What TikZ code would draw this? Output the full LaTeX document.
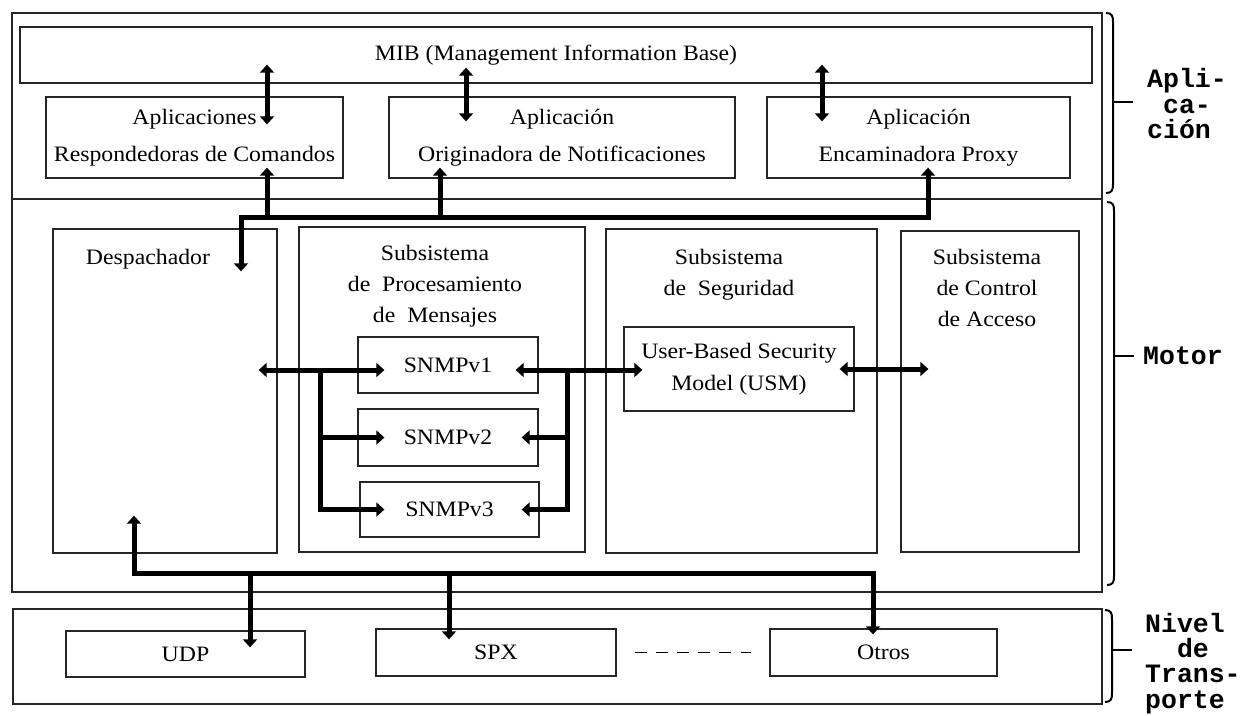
\documentclass[tikz,border=0pt]{standalone}
\usepackage{fontspec}
\setmainfont{Liberation Serif}[FakeStretch=1.08]
\newfontfamily\etiqfont{Liberation Mono}
\usepackage{tikz}
\usetikzlibrary{arrows.meta,positioning,calc}
\tikzstyle{capa} = [rectangle, draw=black!85, line width=1.4pt, inner sep=0pt]
\tikzstyle{caja} = [rectangle, draw=black!85, line width=1.3pt, inner sep=0pt,
align=center, font=\fontsize{22}{37}\selectfont]
\tikzstyle{titulo} = [inner sep=0pt, align=center,
font=\fontsize{22}{31}\selectfont]
\tikzstyle{bus} = [line width=5pt, line join=miter,
>={Triangle[length=8pt,width=14pt]}]
\tikzstyle{llave} = [line width=2pt]
\tikzstyle{etiqueta} = [inner sep=0pt, align=left,
font=\etiqfont\bfseries\fontsize{26.5}{25.2}\selectfont]
\tikzstyle{guiones} = [line width=1.5pt, dash pattern=on 12pt off 9.2pt]
% llave de la derecha: x, arriba, abajo, punta
\newcommand{\corchete}[4]{%
	\draw[llave] (#1-7,#2) .. controls (#1-1,#2) and (#1,#2+3) .. (#1,#2+9)
		-- (#1,#3-9) .. controls (#1,#3-3) and (#1-1,#3) .. (#1-7,#3);
	\draw[llave] (#1,#4) -- (#1+20,#4);}

\begin{document}
\begin{tikzpicture}[x=1pt, y=-1pt]
	\useasboundingbox (0,0) rectangle (1241,715);
	% capas
	\node[capa, minimum width=1090, minimum height=186] (apl) at (557,106) {};
	\node[capa, minimum width=1090, minimum height=393] (mot) at (557,395.5) {};
	\node[capa, minimum width=1089, minimum height=95] (tra) at (557.5,656.5) {};

	% aplicacion
	\node[caja, minimum width=1072, minimum height=56] (mib) at (556,55) {MIB (Management Information Base)};
	\node[caja, minimum width=297, minimum height=81] (resp) at (194.5,137.5) {Aplicaciones\\Respondedoras de Comandos};
	\node[caja, minimum width=346, minimum height=81] (orig) at (562,137.5) {Aplicación\\Originadora de Notificaciones};
	\node[caja, minimum width=303, minimum height=81] (enc) at (918.5,137.5) {Aplicación\\Encaminadora Proxy};

	% motor
	\node[caja, minimum width=224, minimum height=324] (desp) at (165,391) {};
	\node[titulo, below=20.5pt of desp.north, xshift=-17pt] (despT) {Despachador};
	\node[caja, minimum width=286, minimum height=325] (proc) at (442,389.5) {};
	\node[titulo, below=18.5pt of proc.north, xshift=-7pt] (procT) {Subsistema\\de\ \ Procesamiento\\de\ \ Mensajes};
	\node[caja, minimum width=271, minimum height=324] (seg) at (741.5,391) {};
	\node[titulo, below=20.5pt of seg.north, xshift=-12.5pt] (segT) {Subsistema\\de\ \ Seguridad};
	\node[caja, minimum width=178, minimum height=321] (acc) at (990,391.5) {};
	\node[titulo, below=18.5pt of acc.north, xshift=-3pt] (accT) {Subsistema\\de Control\\de Acceso};
	\node[caja, minimum width=180, minimum height=56] (v1) at (448,365) {SNMPv1};
	\node[caja, minimum width=180, minimum height=57] (v2) at (448,437.5) {SNMPv2};
	\node[caja, minimum width=179, minimum height=55] (v3) at (449.5,509.5) {SNMPv3};
	\node[caja, minimum width=230, minimum height=84, font=\fontsize{22}{32}\selectfont] (usm) at (739,369) {User-Based Security\\Model (USM)};

	% transporte
	\node[caja, minimum width=239, minimum height=46] (udp) at (185.5,654) {UDP};
	\node[caja, minimum width=240, minimum height=47] (spx) at (496,652.5) {SPX};
	\node[caja, minimum width=227, minimum height=47] (otros) at (883.5,652.5) {Otros};
	\draw[guiones, shorten <=18pt, shorten >=18pt] (spx) -- (otros);

	% flechas de arriba
	\coordinate (bA) at (241,217);
	\coordinate (bB) at (928,217);
	\coordinate (b1) at (267,217);
	\coordinate (b2) at (440,217);
	\coordinate (m2) at (466,0);
	\coordinate (m3) at (822,0);
	\draw[bus, <->] ($(bA |- desp.north)+(0,43)$) -- (bA) -- (bB) -- ($(bB |- enc.south)+(0,-11)$);
	\draw[bus, ->] (b1) -- ($(b1 |- resp.south)+(0,-11)$);
	\draw[bus, ->] (b2) -- ($(b2 |- orig.south)+(0,-11)$);
	\draw[bus, <->] ($(b1 |- mib.south)+(0,-19)$) -- ($(b1 |- resp.north)+(0,28)$);
	\draw[bus, <->] ($(m2 |- mib.south)+(0,-16)$) -- ($(m2 |- orig.north)+(0,25)$);
	\draw[bus, <->] ($(m3 |- mib.south)+(0,-19)$) -- ($(m3 |- enc.north)+(0,25)$);

	% procesamiento de mensajes
	\coordinate (jL) at (320,370);
	\coordinate (jR) at (567,370);
	\draw[bus, <->] ($(jL -| desp.east)+(-19,0)$) -- ($(jL -| v1.west)+(27,0)$);
	\draw[bus, ->] (jL) |- ($(v3.west)+(25,0)$);
	\draw[bus, ->] (jL |- v2.west) -- ($(v2.west)+(27,0)$);
	\draw[bus, <->] ($(jR -| v1.east)+(-23,0)$) -- ($(jR -| usm.west)+(19,0)$);
	\draw[bus, ->] (jR) |- ($(v3.east)+(-18,0)$);
	\draw[bus, ->] (jR |- v2.east) -- ($(v2.east)+(-17,0)$);
	\draw[bus, <->] ($(usm.east)+(-15,0)$) -- ($(acc.west |- usm.east)+(28,0)$);

	% flechas de abajo
	\coordinate (bC) at (134,573);
	\coordinate (bD) at (873,573);
	\coordinate (b3) at (250,573);
	\coordinate (b4) at (449,573);
	\draw[bus, <->] ($(bC |- desp.south)+(0,-38)$) -- (bC) -- (bD) -- ($(bD |- otros.north)+(0,6)$);
	\draw[bus, ->] (b3) -- ($(b3 |- udp.north)+(0,17)$);
	\draw[bus, ->] (b4) -- ($(b4 |- spx.north)+(0,11)$);

	% llaves
	\corchete{1113}{13}{193}{102}
	\corchete{1114}{202}{585}{356}
	\corchete{1112}{610}{702}{650}
	\node[etiqueta, anchor=north west] (lapl) at (1147,68.5) {Apli-\\\phantom{c}ca-\\ción};
	\node[etiqueta, anchor=base west] (lmot) at (1143,364) {Motor};
	\node[etiqueta, anchor=north west] (ltra) at (1145,613) {Nivel\\\phantom{xx}de\\Trans-\\porte};
\end{tikzpicture}
\end{document}
